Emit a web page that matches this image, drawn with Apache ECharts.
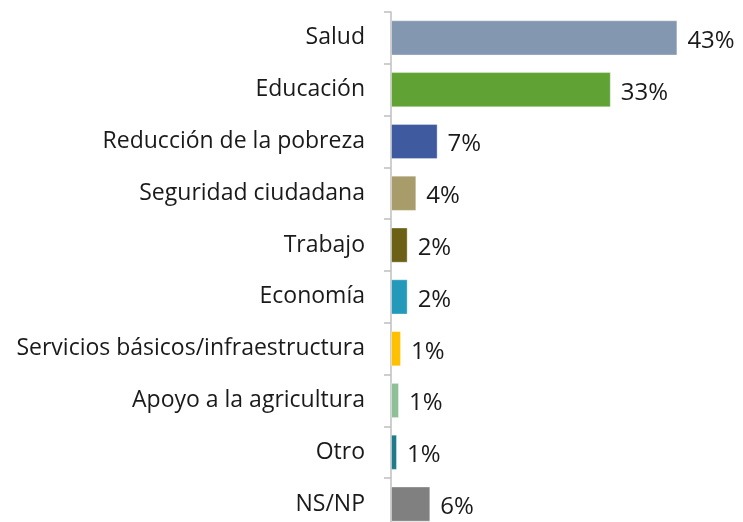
<!DOCTYPE html>
<html>
<head>
<meta charset="utf-8">
<script src="https://cdn.jsdelivr.net/npm/echarts@6/dist/echarts.min.js"></script>
<style>
  html, body { margin: 0; padding: 0; background: #fff; }
  #container { width: 743px; height: 522px; }
</style>
</head>
<body>
<div id="container"></div>
<script>
var categories = ['Salud', 'Educación', 'Reducción de la pobreza', 'Seguridad ciudadana', 'Trabajo',
  'Economía', 'Servicios básicos/infraestructura', 'Apoyo a la agricultura', 'Otro', 'NS/NP'];
var values = [43, 33, 7, 3.8, 2.5, 2.5, 1.5, 1.2, 0.9, 5.9];
var valueLabels = ['43%', '33%', '7%', '4%', '2%', '2%', '1%', '1%', '1%', '6%'];
var barColors = ['#8497B0', '#60A334', '#3F5A9E', '#A89C6A', '#6B6016', '#2499BA', '#FFC000', '#8FBF97', '#1F7A8C', '#808080'];

var dom = document.getElementById('container');
var myChart = echarts.init(dom);

var option = {
  backgroundColor: '#fff',
  animation: false,
  grid: { left: 391, top: 12, width: 333, height: 518, outerBoundsMode: 'none', containLabel: false },
  xAxis: {
    type: 'value',
    min: 0,
    max: 50,
    show: false
  },
  yAxis: {
    type: 'category',
    inverse: true,
    data: categories,
    axisLine: { show: true, lineStyle: { color: '#BFBFBF', width: 1.5 } },
    axisTick: { show: true, inside: false, alignWithLabel: false, length: 7, lineStyle: { color: '#BFBFBF', width: 1.5 } },
    axisLabel: {
      margin: 26,
      color: '#1a1a1a',
      fontSize: 23,
      fontFamily: 'Open Sans'
    }
  },
  series: [{
    type: 'bar',
    barCategoryGap: '32%',
    data: values.map(function (v, i) {
      return { value: v, itemStyle: { color: barColors[i] } };
    }),
    itemStyle: { borderColor: 'rgba(255,255,255,0.35)', borderWidth: 1 },
    label: {
      show: true,
      position: 'right',
      distance: 10,
      offset: [0, 3],
      color: '#1a1a1a',
      fontSize: 24,
      fontFamily: 'Open Sans',
      formatter: function (p) { return valueLabels[p.dataIndex]; }
    }
  }]
};
myChart.setOption(option);
</script>
</body>
</html>
